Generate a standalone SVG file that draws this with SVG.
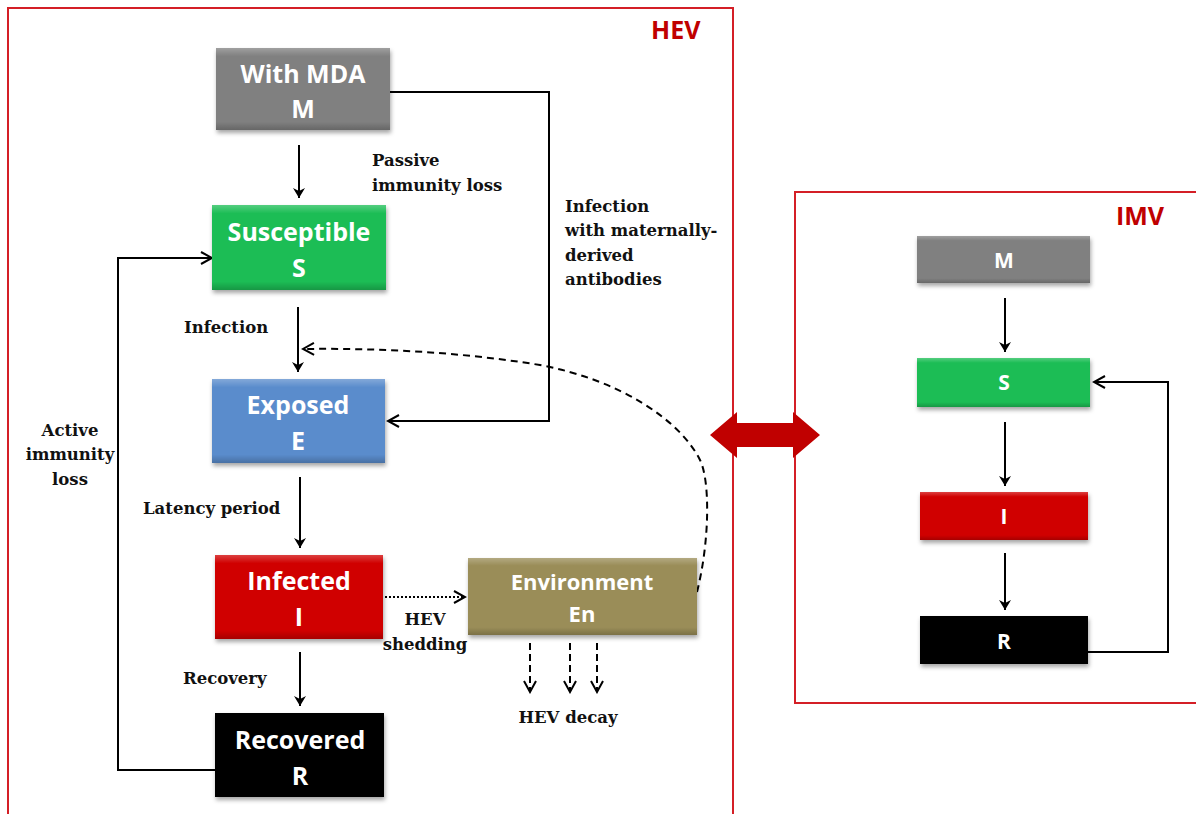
<svg xmlns="http://www.w3.org/2000/svg" width="1196" height="814" viewBox="0 0 1196 814">
<defs>
<style>
.box text{font-family:"Open Sans","Liberation Sans",sans-serif;font-weight:bold;fill:#fff;text-anchor:middle}
.lbl{font-family:"DejaVu Serif","Liberation Serif",serif;font-weight:bold;font-size:16.5px;fill:#111}
.con{fill:none;stroke:#000;stroke-width:2}
.frame{fill:none;stroke:#d41f26;stroke-width:2}
.title{font-family:"Open Sans","Liberation Sans",sans-serif;font-weight:bold;font-size:25px;fill:#c00000}
</style>
<marker id="ah" viewBox="0 0 12 12" refX="10" refY="6" markerWidth="12" markerHeight="12" markerUnits="userSpaceOnUse" orient="auto">
<path d="M0,0 L10,6 L0,12 L3,6 Z" fill="#000"/>
</marker>
<marker id="oh" viewBox="0 0 14 14" refX="12" refY="7" markerWidth="14" markerHeight="14" markerUnits="userSpaceOnUse" orient="auto">
<path d="M1,1 L12,7 L1,13" fill="none" stroke="#000" stroke-width="2"/>
</marker>
<filter id="sh" x="-10%" y="-10%" width="120%" height="130%">
<feDropShadow dx="1" dy="3" stdDeviation="2" flood-color="#000" flood-opacity="0.35"/>
</filter>
<linearGradient id="bev" x1="0" y1="0" x2="0" y2="1">
<stop offset="0" stop-color="#fff" stop-opacity="0.25"/>
<stop offset="0.1" stop-color="#fff" stop-opacity="0"/>
<stop offset="0.9" stop-color="#000" stop-opacity="0"/>
<stop offset="1" stop-color="#000" stop-opacity="0.2"/>
</linearGradient>
</defs>
<rect width="1196" height="814" fill="#fff"/>

<g id="hev-frame">
<path class="frame" d="M8,814 V8 H733 V814"/>
<text class="title" x="651" y="39">HEV</text>
</g>
<g id="imv-frame">
<path class="frame" d="M1196,192 H795 V703 H1196"/>
<text class="title" x="1116" y="225">IMV</text>
</g>

<g id="connectors">
<line class="con" x1="299" y1="145" x2="299" y2="198" marker-end="url(#ah)"/>
<line class="con" x1="298" y1="307" x2="298" y2="372" marker-end="url(#ah)"/>
<line class="con" x1="300" y1="477" x2="300" y2="548" marker-end="url(#ah)"/>
<line class="con" x1="300" y1="652" x2="300" y2="706" marker-end="url(#ah)"/>
<polyline class="con" points="390,92 549,92 549,421 388,421" marker-end="url(#oh)"/>
<polyline class="con" points="215,770 118,770 118,258 212,258" marker-end="url(#oh)"/>
<line class="con" x1="385" y1="597" x2="465" y2="597" stroke-dasharray="2,2" marker-end="url(#oh)"/>
<path class="con" d="M697,592 C710,540 710,480 700,460 C680,420 620,380 540,365 C460,352 380,348 303,349" stroke-dasharray="7,5" marker-end="url(#oh)"/>
<line class="con" x1="530" y1="643" x2="530" y2="692" stroke-dasharray="7,4" marker-end="url(#oh)"/>
<line class="con" x1="570" y1="643" x2="570" y2="692" stroke-dasharray="7,4" marker-end="url(#oh)"/>
<line class="con" x1="597" y1="643" x2="597" y2="692" stroke-dasharray="7,4" marker-end="url(#oh)"/>
<line class="con" x1="1005" y1="298" x2="1005" y2="352" marker-end="url(#ah)"/>
<line class="con" x1="1005" y1="422" x2="1005" y2="486" marker-end="url(#ah)"/>
<line class="con" x1="1005" y1="553" x2="1005" y2="610" marker-end="url(#ah)"/>
<polyline class="con" points="1088,652 1168,652 1168,382 1094,382" marker-end="url(#oh)"/>
<path d="M710,435 L737,412 V423 H793 V412 L820,435 L793,458 V447 H737 V458 Z" fill="#c00000"/>
</g>

<g id="labels">
<text class="lbl" x="372" y="166">Passive</text>
<text class="lbl" x="372" y="191">immunity loss</text>
<text class="lbl" x="565" y="212">Infection</text>
<text class="lbl" x="565" y="236">with maternally-</text>
<text class="lbl" x="565" y="261">derived</text>
<text class="lbl" x="565" y="285">antibodies</text>
<text class="lbl" x="184" y="333">Infection</text>
<text class="lbl" x="70" y="436" text-anchor="middle">Active</text>
<text class="lbl" x="70" y="460" text-anchor="middle">immunity</text>
<text class="lbl" x="70" y="485" text-anchor="middle">loss</text>
<text class="lbl" x="143" y="514">Latency period</text>
<text class="lbl" x="183" y="684">Recovery</text>
<text class="lbl" x="425" y="625" text-anchor="middle">HEV</text>
<text class="lbl" x="425" y="650" text-anchor="middle">shedding</text>
<text class="lbl" x="568" y="723" text-anchor="middle">HEV decay</text>
</g>

<g id="node-M" class="box">
<rect x="216" y="48" width="174" height="82" fill="#808080" filter="url(#sh)"/>
<rect x="216" y="48" width="174" height="82" fill="url(#bev)"/>
<text x="303" y="83" font-size="25">With MDA</text>
<text x="303" y="118" font-size="25">M</text>
</g>
<g id="node-S" class="box">
<rect x="212" y="205" width="174" height="85" fill="#1cbd55" filter="url(#sh)"/>
<rect x="212" y="205" width="174" height="85" fill="url(#bev)"/>
<text x="299" y="241" font-size="25">Susceptible</text>
<text x="299" y="277" font-size="25">S</text>
</g>
<g id="node-E" class="box">
<rect x="212" y="379" width="173" height="84" fill="#5a8ccc" filter="url(#sh)"/>
<rect x="212" y="379" width="173" height="84" fill="url(#bev)"/>
<text x="298" y="414" font-size="25">Exposed</text>
<text x="298" y="450" font-size="25">E</text>
</g>
<g id="node-I" class="box">
<rect x="215" y="555" width="168" height="84" fill="#d00000" filter="url(#sh)"/>
<rect x="215" y="555" width="168" height="84" fill="url(#bev)"/>
<text x="299" y="590" font-size="25">Infected</text>
<text x="299" y="626" font-size="25">I</text>
</g>
<g id="node-R" class="box">
<rect x="215" y="713" width="169" height="84" fill="#000" filter="url(#sh)"/>
<text x="300" y="749" font-size="25">Recovered</text>
<text x="300" y="785" font-size="25">R</text>
</g>
<g id="node-En" class="box">
<rect x="468" y="558" width="229" height="77" fill="#9a8d58" filter="url(#sh)"/>
<rect x="468" y="558" width="229" height="77" fill="url(#bev)"/>
<text x="582" y="590" font-size="22">Environment</text>
<text x="582" y="622" font-size="22">En</text>
</g>

<g id="imv-M" class="box">
<rect x="917" y="236" width="173" height="47" fill="#808080" filter="url(#sh)"/>
<rect x="917" y="236" width="173" height="47" fill="url(#bev)"/>
<text x="1004" y="268" font-size="21">M</text>
</g>
<g id="imv-S" class="box">
<rect x="917" y="358" width="173" height="49" fill="#1cbd55" filter="url(#sh)"/>
<rect x="917" y="358" width="173" height="49" fill="url(#bev)"/>
<text x="1004" y="390" font-size="21">S</text>
</g>
<g id="imv-I" class="box">
<rect x="920" y="492" width="168" height="48" fill="#d00000" filter="url(#sh)"/>
<rect x="920" y="492" width="168" height="48" fill="url(#bev)"/>
<text x="1004" y="524" font-size="21">I</text>
</g>
<g id="imv-R" class="box">
<rect x="920" y="616" width="168" height="48" fill="#000" filter="url(#sh)"/>
<text x="1004" y="649" font-size="21">R</text>
</g>
</svg>
